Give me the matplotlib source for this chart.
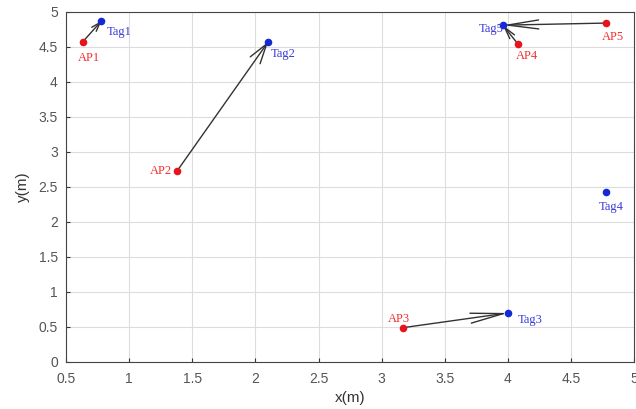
import matplotlib.pyplot as plt

ap_names = ['AP1', 'AP2', 'AP3', 'AP4', 'AP5']
ap_x = [0.63, 1.38, 3.17, 4.08, 4.78]
ap_y = [4.57, 2.73, 0.49, 4.54, 4.84]

tag_names = ['Tag1', 'Tag2', 'Tag3', 'Tag4', 'Tag5']
tag_x = [0.78, 2.10, 4.00, 4.78, 3.96]
tag_y = [4.87, 4.57, 0.70, 2.43, 4.81]

# which tag each AP points to
links = [0, 1, 2, 4, 4]

# arrow head size in pixels (length, half width), quiver-like heads
heads = [(9, 3), (20, 6), (33, 5), (12, 3), (31, 4.5)]

# label offsets in pixels (dx, dy, ha)
ap_off = [(-5, -16, 'left'), (-5, 0, 'right'), (-4, 9, 'center'), (-2, -12, 'left'), (-4, -14, 'left')]
tag_off = [(5, -11, 'left'), (3, -12, 'left'), (10, -7, 'left'), (5, -15, 'center'), (1, -4, 'right')]

px = 0.72
fig = plt.figure(figsize=(6.36, 4.09), dpi=100)
ax = fig.add_axes([0.104, 0.115, 0.893, 0.856])

for i, t in enumerate(links):
    hl, hw = heads[i]
    ax.annotate('', xy=(tag_x[t], tag_y[t]), xytext=(ap_x[i], ap_y[i]),
                arrowprops=dict(arrowstyle='->,head_length=%.2f,head_width=%.2f' % (hl * px, hw * px),
                                color='#333333', lw=1.0, shrinkA=0, shrinkB=0,
                                mutation_scale=1))

ax.scatter(ap_x, ap_y, s=20, c='#e8141c', zorder=3)
ax.scatter(tag_x, tag_y, s=20, c='#1428d8', zorder=3)

for i, n in enumerate(ap_names):
    dx, dy, ha = ap_off[i]
    ax.annotate(n, (ap_x[i], ap_y[i]), xytext=(dx * px, dy * px), textcoords='offset points',
                ha=ha, va='center', color='#f03030', fontsize=9, family='Liberation Serif')
for i, n in enumerate(tag_names):
    dx, dy, ha = tag_off[i]
    ax.annotate(n, (tag_x[i], tag_y[i]), xytext=(dx * px, dy * px), textcoords='offset points',
                ha=ha, va='center', color='#3a3adc', fontsize=9, family='Liberation Serif')

ax.set_xlim(0.5, 5)
ax.set_ylim(0, 5)
ax.set_xticks([0.5, 1, 1.5, 2, 2.5, 3, 3.5, 4, 4.5, 5])
ax.set_xticklabels(['0.5', '1', '1.5', '2', '2.5', '3', '3.5', '4', '4.5', '5'])
ax.set_yticks([0, 0.5, 1, 1.5, 2, 2.5, 3, 3.5, 4, 4.5, 5])
ax.set_yticklabels(['0', '0.5', '1', '1.5', '2', '2.5', '3', '3.5', '4', '4.5', '5'])
ax.grid(True, color='#dddddd', lw=0.8)
ax.set_axisbelow(True)
ax.tick_params(direction='in', length=3, colors='#333333', labelsize=10, labelcolor='#555555')
ax.tick_params(axis='x', pad=7)
ax.tick_params(axis='y', pad=6)
for lab in ax.get_xticklabels() + ax.get_yticklabels():
    lab.set_family('Liberation Sans')
for s in ax.spines.values():
    s.set_color('#444444')
    s.set_linewidth(0.8)

ax.set_xlabel('x(m)', fontsize=11, family='Liberation Sans', color='#333333', labelpad=4)
ax.set_ylabel('y(m)', fontsize=11, family='Liberation Sans', color='#333333', labelpad=6)

fig.savefig('out.png', dpi=100)
